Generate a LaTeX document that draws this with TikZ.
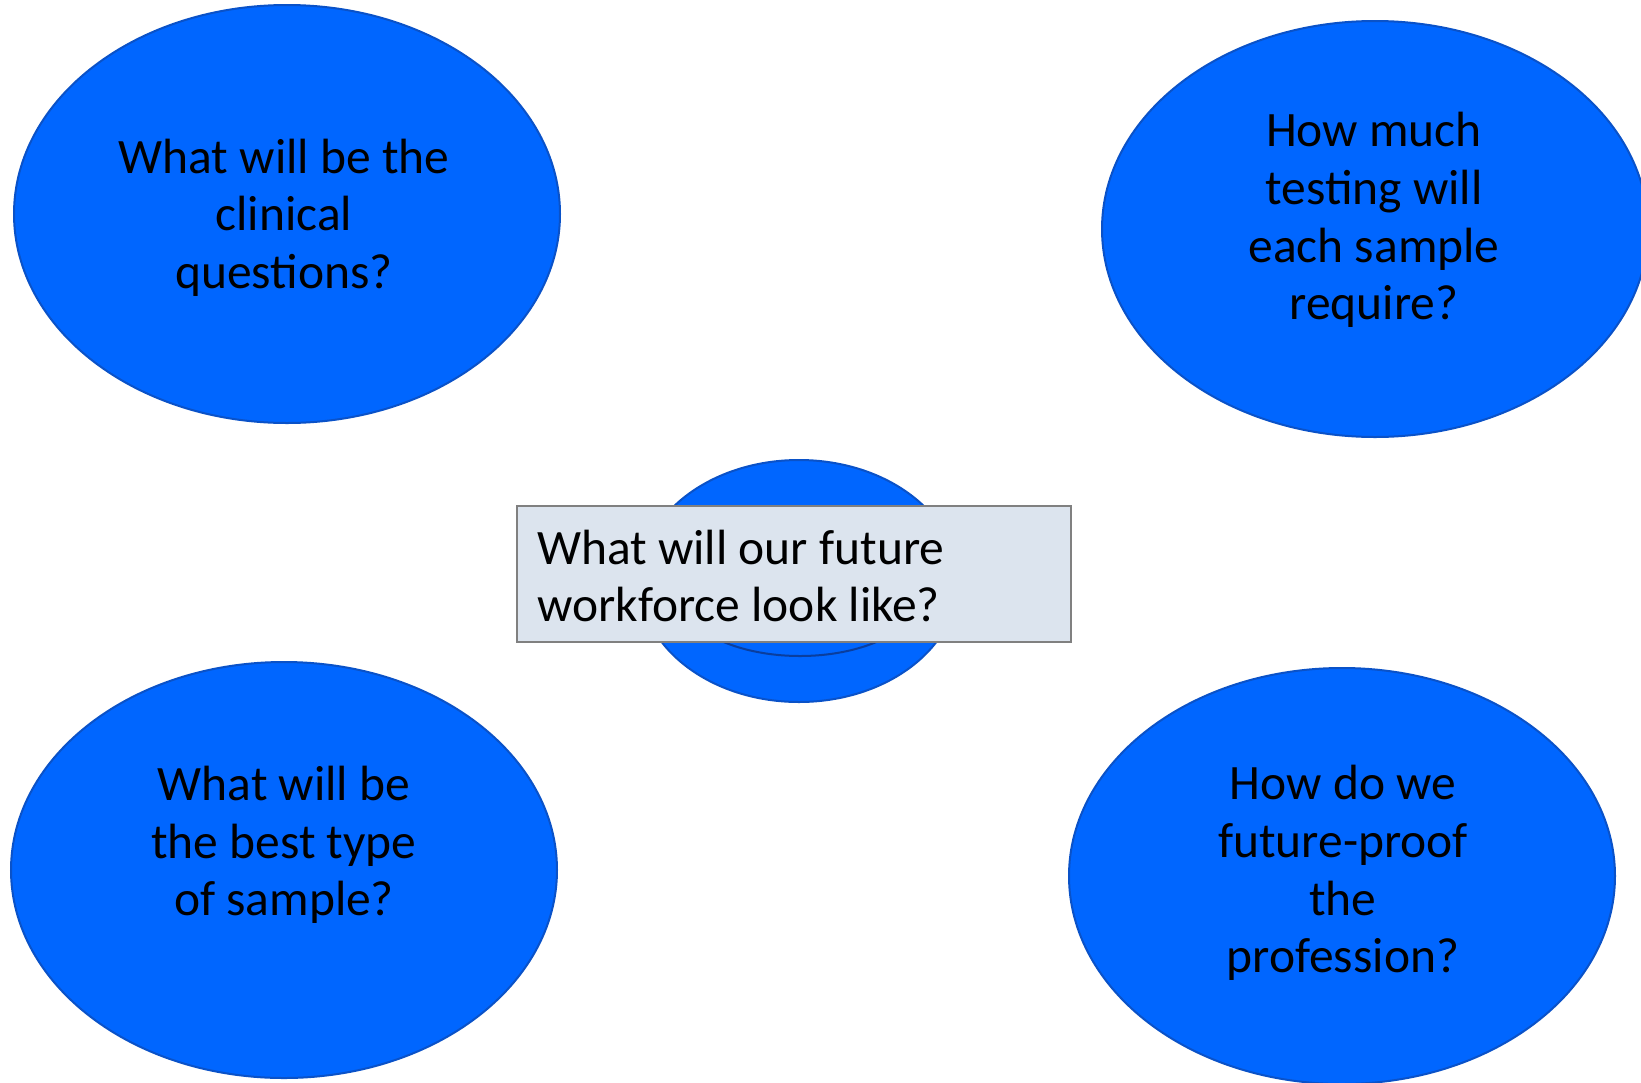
\documentclass[tikz,border=0pt]{standalone}
\usepackage{fontspec}
\setmainfont{Carlito}
\usetikzlibrary{shapes.geometric}
\definecolor{qfill}{HTML}{0066FF}
\definecolor{qedge}{HTML}{0A52C8}
\definecolor{ringedge}{HTML}{0A3E9E}
\definecolor{boxfill}{HTML}{DCE4EE}
\definecolor{boxedge}{HTML}{808080}
\tikzset{
  qball/.style={ellipse, fill=qfill, draw=qedge, line width=2pt, inner sep=0pt},
  qtext/.style={align=center, font=\fontsize{49.5}{57.6}\selectfont, text=black, inner sep=0pt},
  centerbox/.style={fill=boxfill, draw=boxedge, line width=2pt, inner sep=0pt, minimum width=554pt, minimum height=136pt},
}
\begin{document}
\begin{tikzpicture}[x=1pt, y=-1pt]
\useasboundingbox (0,0) rectangle (1641,1082);
\clip (0,0) rectangle (1641,1082);

% outer questions
\node[qball, minimum width=546pt, minimum height=418pt] (tl) at (287,214) {};
\node[qtext] (tltext) at (284,217.5) {What will be the\\clinical\\questions?};

\node[qball, minimum width=546pt, minimum height=416pt] (tr) at (1375,229) {};
\node[qtext] (trtext) at (1374,220) {How much\\testing will\\each sample\\require?};

\node[qball, minimum width=546pt, minimum height=416pt] (bl) at (284,870) {};
\node[qtext] (bltext) at (284,845) {What will be\\the best type\\of sample?};

\node[qball, minimum width=546pt, minimum height=416pt] (br) at (1342,876) {};
\node[qtext] (brtext) at (1343,873) {How do we\\future-proof\\the\\profession?};

% central hub
\node[qball, minimum width=318pt, minimum height=242pt] (hub) at (799,581) {};
\node[ellipse, draw=ringedge, line width=2pt, minimum width=248pt, minimum height=132pt, inner sep=0pt] (hubring) at (800,590) {};
\node[centerbox] (core) at (794,573.5) {};
\node[qtext, align=left, anchor=west] (coretext) at (537,576) {What will our future\\workforce look like?};
\end{tikzpicture}
\end{document}
